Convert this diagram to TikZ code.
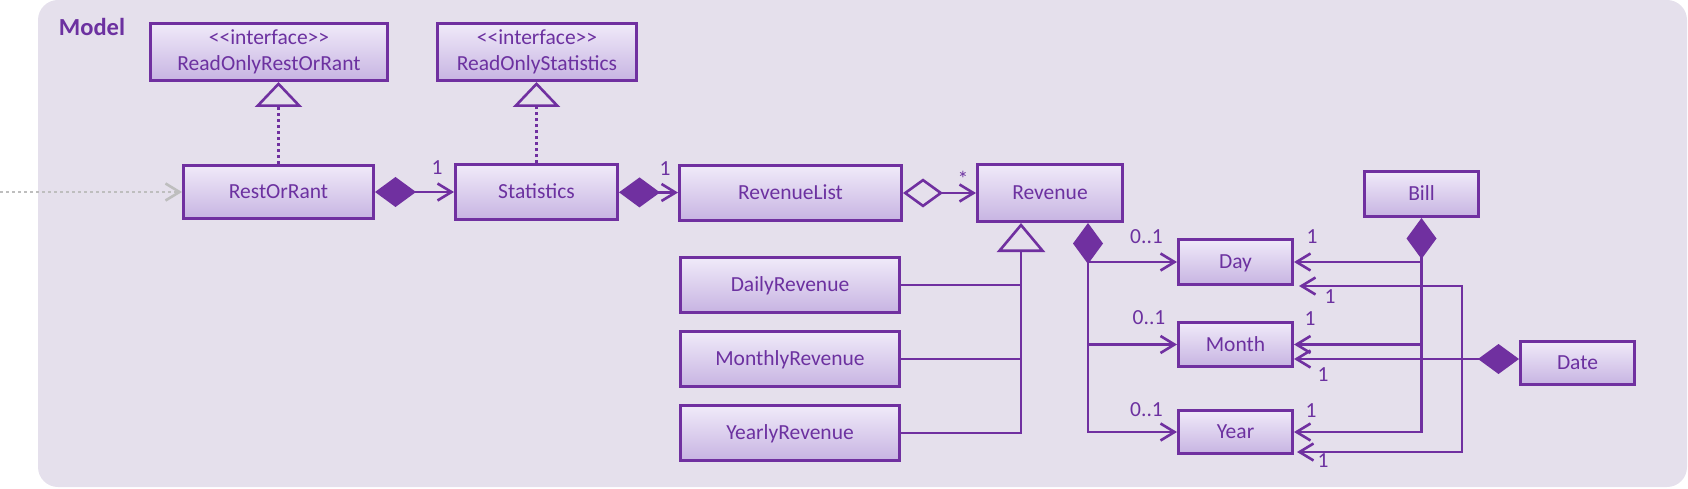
\documentclass[tikz,border=0pt]{standalone}
\usepackage{fontspec}
\usepackage{tikz}
\usetikzlibrary{arrows.meta,calc}
\newfontfamily\umlfont{Carlito}
\definecolor{umlpurple}{HTML}{7030A0}
\definecolor{umltext}{HTML}{6C31A0}
\definecolor{umlbg}{HTML}{E5E0EC}
\definecolor{clstop}{HTML}{F0EAF9}
\definecolor{clsbot}{HTML}{C7B4E2}
\definecolor{extgray}{HTML}{BEBEBE}

\begin{document}
\begin{tikzpicture}
	[   x=1pt,y=-1pt,
		umlbox/.style 2 args={draw=umlpurple,line width=3pt,top color=clstop,bottom color=clsbot,text=umltext,minimum width=#1,minimum height=#2,inner sep=0pt,font=\umlfont\fontsize{21.5}{26}\selectfont},
		cls/.style 2 args={umlbox={#1}{#2},text height=13.8pt,text depth=0pt},
		iface/.style 2 args={umlbox={#1}{#2},align=center},
		mult/.style={text=umltext,inner sep=0pt,font=\umlfont\fontsize{21.5}{26}\selectfont},
	]
	\tikzset{umlline/.style={draw=umlpurple,line width=2.6pt},
		assoc/.style={umlline,-{Straight Barb[length=14pt,width=17pt]}},
		comp/.style={umlline,{Diamond[length=41pt,width=30pt]}-{Straight Barb[length=14pt,width=17pt]}},
		aggr/.style={umlline,{Diamond[open,length=40pt,width=29pt]}-{Straight Barb[length=14pt,width=17pt]}},
		inh/.style={umlline,-{Triangle[open,length=29pt,width=48pt]}},
		real/.style={umlline,dash pattern=on 3pt off 3pt,-{Triangle[open,length=25pt,width=47pt]}},
		ext/.style={draw=extgray,line width=2.6pt,dash pattern=on 2.6pt off 3.4pt,-{Straight Barb[length=14pt,width=17pt]}}}
	\useasboundingbox (0,0) rectangle (1688,489);
	\fill[umlbg,rounded corners=20pt] (38,0) rectangle (1687,487);
	\node[mult,font=\umlfont\bfseries\fontsize{24.5}{28}\selectfont] (model) at (92,27) {Model};
	
	\node[iface={237pt}{57pt}] (ro-rr) at (269,52) {<<interface>>\\ReadOnlyRestOrRant};
	\node[iface={199pt}{57pt}] (ro-st) at (537,52) {<<interface>>\\ReadOnlyStatistics};
	\node[cls={190pt}{53pt}] (rr) at (278.5,192) {RestOrRant};
	\node[cls={162pt}{54pt}] (st) at (536.5,192) {Statistics};
	\node[cls={222pt}{55pt}] (rl) at (790.5,193) {RevenueList};
	\node[cls={145pt}{57pt}] (rev) at (1050,193) {Revenue};
	\node[cls={114pt}{45pt}] (bill) at (1421.5,194) {Bill};
	\node[cls={114pt}{45pt}] (day) at (1235.5,262) {Day};
	\node[cls={114pt}{44pt}] (month) at (1235.5,344.5) {Month};
	\node[cls={114pt}{43pt}] (year) at (1235.5,432) {Year};
	\node[cls={114pt}{43pt}] (date) at (1577.5,363) {Date};
	\foreach \n/\y in {Daily/285,Monthly/359,Yearly/433}
	{
		\node[cls={219pt}{55pt}] (\n) at (790,\y) {\n Revenue};
	}
	
	\coordinate (src) at (0,192);
	\coordinate (gj) at ([xshift=-29pt]rev.south);
	\coordinate (rj) at ([xshift=38pt]rev.south);
	\coordinate (dj) at (1462,359);
	
	\draw[ext] (src) -- (rr.west);
	\draw[real] (rr.north) -- (rr.north |- ro-rr.south);
	\draw[real] (st.north) -- (st.north |- ro-st.south);
	\draw[comp] (rr) -- (st);
	\draw[comp] (st) -- (rl);
	\draw[aggr] (rl) -- (rev);
	\draw[inh] (Yearly.east) -| (gj);
	\foreach \n in {Daily,Monthly}
		\draw[umlline] (\n.east) -- (\n.east -| gj);
	\draw[comp] (rj) |- (year.west);
	\draw[assoc] (rj |- day.west) -- (day.west);
	\draw[assoc] (rj |- month.west) -- (month.west);
	\draw[comp] (bill.south) |- (year.east);
	\draw[assoc] (bill.south |- day.east) -- (day.east);
	\draw[assoc] (bill.south |- month.east) -- (month.east);
	\draw[comp] ([yshift=4pt]date.west) -- (month.east |- dj);
	\draw[assoc] (dj) |- ([xshift=5pt]day.south east);
	\draw[assoc] (dj) |- ([xshift=3pt,yshift=3pt]year.south east);
	
	\foreach \x/\y [count=\i] in {437/168,665/169,1312/237,1310/319,1311/411,1330/297,1323/375,1323/461}
		\node[mult] (one-\i) at (\x,\y) {1};
	\foreach \x/\y [count=\i] in {1146.5/237,1149/318,1146.5/410}
		\node[mult] (opt-\i) at (\x,\y) {0..1};
	\node[mult] (many) at (963,179) {*};
\end{tikzpicture}
\end{document}
